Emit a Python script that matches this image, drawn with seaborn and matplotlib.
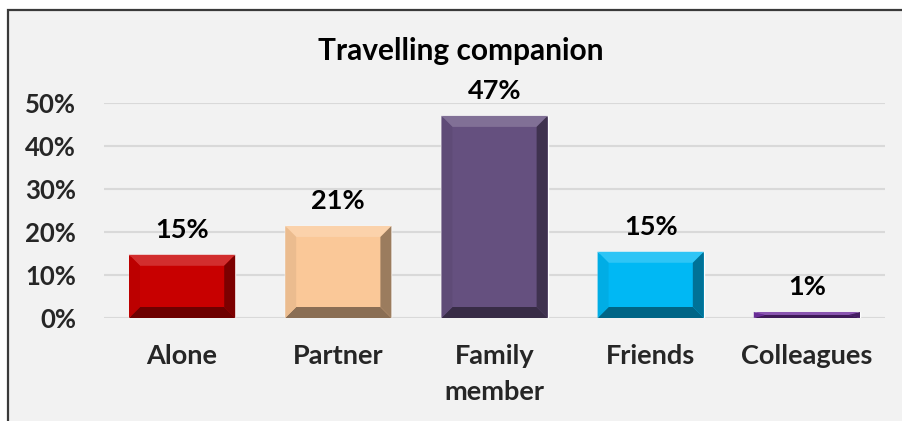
import numpy as np
import matplotlib
matplotlib.use("Agg")
import matplotlib.pyplot as plt
import matplotlib.colors as mcolors
from matplotlib.patches import Polygon, Rectangle
import seaborn as sns

# data
categories = ["Alone", "Partner", "Family\nmember", "Friends", "Colleagues"]
shares = [0.147, 0.214, 0.470, 0.154, 0.014]
share_labels = ["15%", "21%", "47%", "15%", "1%"]
bar_colors = ["#c80000", "#fac898", "#65507f", "#00b8f4", "#7030a0"]
y_ticks = [0.0, 0.1, 0.2, 0.3, 0.4, 0.5]
y_tick_labels = ["0%", "10%", "20%", "30%", "40%", "50%"]

sns.set_style("white")
plt.rcParams["font.family"] = ["Lato", "DejaVu Sans"]
plt.rcParams["font.weight"] = "bold"

fig = plt.figure(figsize=(9.03, 4.21), dpi=100)
fig.patch.set_facecolor("white")

# chart area frame (cut off at the bottom like the screenshot)
frame = Rectangle((8 / 903, -0.05), 1.0, (421 - 10) / 421 + 0.05,
                  transform=fig.transFigure, facecolor="#f2f2f2",
                  edgecolor="#3a3a3a", linewidth=1.6, zorder=-5)
fig.patches.append(frame)

ax = fig.add_axes([104 / 903, (421 - 318) / 421, (885 - 104) / 903, (318 - 103) / 421])
ax.set_zorder(2)
ax.set_facecolor("none")

sns.barplot(x=categories, y=shares, hue=categories, palette=bar_colors,
            legend=False, width=0.68, saturation=1, ax=ax, zorder=3)
bars = sorted(ax.patches, key=lambda p: p.get_x())

ax.set_ylim(0, 0.5)
ax.set_yticks(y_ticks)
ax.set_yticklabels(y_tick_labels, fontsize=18.5, fontweight="bold")
ax.tick_params(axis="y", length=0, pad=20)
ax.tick_params(axis="x", length=0, pad=19, labelsize=19.5)
for lab in ax.get_xticklabels():
    lab.set_fontweight("bold")
    lab.set_linespacing(1.6)
ax.set_xlabel("")
ax.set_ylabel("")
ax.grid(axis="y", color="#d9d9d9", linewidth=1.5, zorder=0)
for s in ax.spines.values():
    s.set_visible(False)

# bevel effect on each bar, derived from the bar geometry
fig.canvas.draw()
bbox = ax.get_window_extent()
xl = ax.get_xlim()
px_x = (xl[1] - xl[0]) / bbox.width
px_y = 0.5 / bbox.height
bev = 11


def shade(c, f):
    r = np.array(mcolors.to_rgb(c))
    if f > 0:
        return tuple(r + (1 - r) * f)
    return tuple(r * (1 + f))


for patch, col, lab in zip(bars, bar_colors, share_labels):
    x0, y0 = patch.get_x(), patch.get_y()
    x1, y1 = x0 + patch.get_width(), y0 + patch.get_height()
    bx = min(bev * px_x, patch.get_width() / 2)
    by = min(bev * px_y, patch.get_height() / 2)
    faces = [
        ([(x0, y1), (x1, y1), (x1 - bx, y1 - by), (x0 + bx, y1 - by)], shade(col, 0.18)),
        ([(x0, y0), (x1, y0), (x1 - bx, y0 + by), (x0 + bx, y0 + by)], shade(col, -0.45)),
        ([(x1, y0), (x1, y1), (x1 - bx, y1 - by), (x1 - bx, y0 + by)], shade(col, -0.38)),
        ([(x0, y0), (x0, y1), (x0 + bx, y1 - by), (x0 + bx, y0 + by)], shade(col, -0.06)),
    ]
    for pts, fc in faces:
        ax.add_patch(Polygon(pts, closed=True, facecolor=fc, edgecolor="none", zorder=4))
    ax.annotate(lab, ((x0 + x1) / 2, y1), xytext=(0, 9), textcoords="offset points",
                ha="center", va="bottom", fontsize=19.5, fontweight="bold",
                color="black", annotation_clip=False, zorder=5)

fig.text(461 / 903, (421 - 51) / 421, "Travelling companion", ha="center", va="center",
         fontsize=21.5, fontweight="bold", color="black")

fig.savefig("out.png", dpi=100)
